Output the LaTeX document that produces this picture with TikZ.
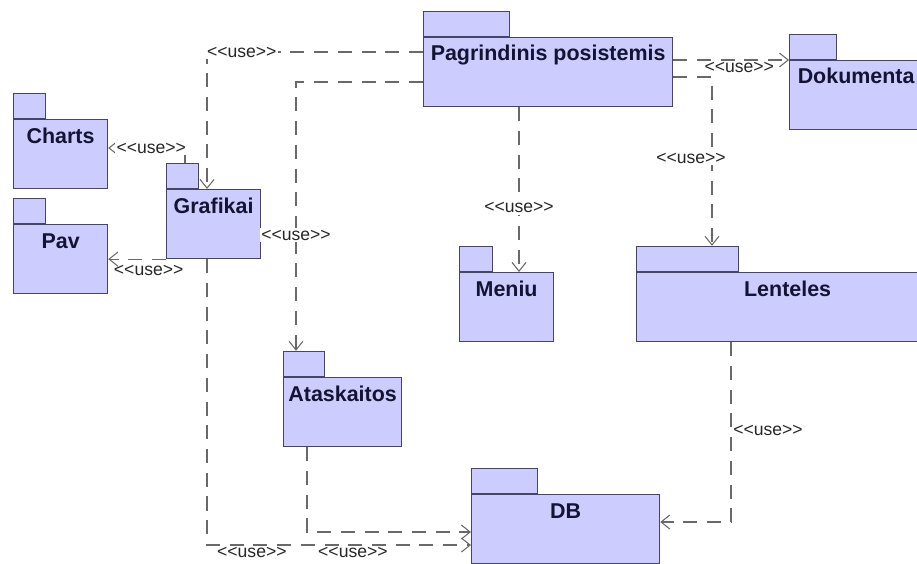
\documentclass[tikz,border=0pt]{standalone}
\usepackage{fontspec}
\setmainfont{Liberation Sans}
\usetikzlibrary{arrows.meta}

\definecolor{pkgfill}{RGB}{204,204,255}
\definecolor{pkgline}{RGB}{70,70,100}
\definecolor{pkgtext}{RGB}{20,20,50}
\definecolor{useline}{RGB}{105,105,105}

% stereotype text, kerns keep << and >> from turning into guillemets
\newcommand{\usetag}{<\kern0pt<use>\kern0pt>}

\tikzset{
  pkg/.style={draw=pkgline, fill=pkgfill, line width=0.7pt, minimum height=1.38cm, inner sep=0pt, anchor=north west},
  pkgtab/.style={draw=pkgline, fill=pkgfill, line width=0.7pt, minimum height=0.5cm, inner sep=0pt, anchor=south west},
  pkgname/.style={anchor=base, text=pkgtext, font=\bfseries\fontsize{12.2}{14}\selectfont},
  uses/.style={draw=useline, line width=0.6pt, dash pattern=on 8pt off 5.5pt, -{Straight Barb[length=5pt,width=8pt]}},
  uselbl/.style={font=\fontsize{10}{11}\selectfont, text=black!85, inner sep=1pt}
}

\begin{document}
\begin{tikzpicture}
  \useasboundingbox (0,0) rectangle (18.34,-11.26);
  \clip (0,0) rectangle (18.34,-11.26);

  % Packages: name / x / y / body width / tab width / title
  \foreach \n/\x/\y/\w/\t/\txt in {
    pag/8.46/-0.74/4.98/1.72/Pagrindinis posistemis,
    dok/15.78/-1.20/2.66/0.94/Dokumenta,
    charts/0.26/-2.38/1.88/0.64/Charts,
    pav/0.26/-4.48/1.88/0.64/Pav,
    graf/3.32/-3.78/1.88/0.64/Grafikai,
    meniu/9.18/-5.44/1.88/0.66/Meniu,
    lent/12.72/-5.44/6.04/2.04/Lenteles,
    atas/5.66/-7.54/2.36/0.82/Ataskaitos,
    db/9.42/-9.88/3.76/1.32/DB}
  {
    \node[pkg, minimum width=\w cm] (\n) at (\x,\y) {};
    \node[pkgtab, minimum width=\t cm] (\n-tab) at (\n.north west) {};
    \node[pkgname] (\n-name) at ([yshift=-0.48cm]\n.north) {\txt};
  }

  % Bends of the dependencies
  \coordinate (k1) at (4.14,-1.04);
  \coordinate (k2) at (3.70,-2.96);
  \coordinate (k4) at (4.14,-10.90);
  \coordinate (k5) at (6.14,-10.64);
  \coordinate (k6) at (5.92,-1.64);
  \coordinate (k7) at (10.38,-1.00);
  \coordinate (k9) at (14.24,-1.54);
  \coordinate (k10) at (14.62,-10.44);

  % Dependencies of the main subsystem
  \draw[uses] (pag.west |- k1) -- (k1) -- (k1 |- graf.north);
  \node[uselbl, fill=white, anchor=west] (l1) at ([xshift=-0.04cm]k1) {\usetag};
  \draw[uses] (pag.west |- k6) -- (k6) -- node[uselbl, fill=white, pos=0.57] (l6) {\usetag} (k6 |- atas-tab.north);
  \draw[uses] (pag.south -| k7) -- node[uselbl, fill=white, pos=0.61] (l7) {\usetag} (meniu.north -| k7);
  \draw[uses] (pag.east |- dok.north west) -- node[uselbl, below, pos=0.57] (l8) {\usetag} (dok.north west);
  \draw[uses] (pag.east |- k9) -- (k9) -- node[uselbl, fill=white, pos=0.48, xshift=-0.42cm] (l9) {\usetag} (k9 |- lent-tab.north);

  % Grafikai
  \draw[uses] (graf-tab.north -| k2) -- (k2) -- node[uselbl, fill=white, pos=0.44] (l2) {\usetag} (k2 -| charts.east);
  \draw[uses] (graf.west |- pav.east) -- node[uselbl, below=2pt, pos=0.3] (l3) {\usetag} (pav.east);
  \draw[uses] (graf.south -| k4) -- (k4) -- node[uselbl, below, pos=0.17] (l4) {\usetag} (k4 -| db.west);

  % Into DB
  \draw[uses] (atas.south -| k5) -- (k5) -- node[uselbl, below=0.26cm, pos=0.28] (l5) {\usetag} (k5 -| db.west);
  \draw[uses] (lent.south -| k10) -- node[uselbl, anchor=west, pos=0.49] (l10) {\usetag} (k10) -- (k10 -| db.east);
\end{tikzpicture}
\end{document}
